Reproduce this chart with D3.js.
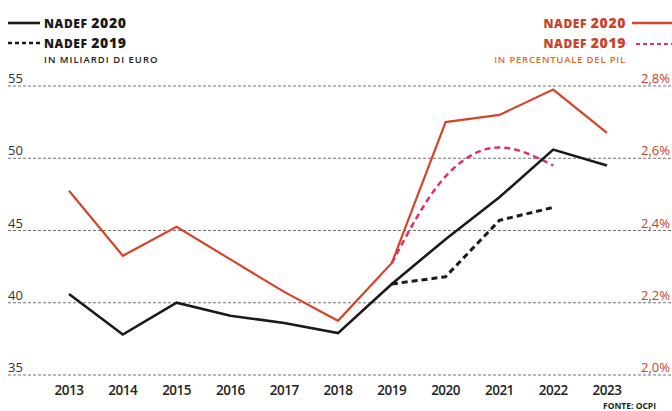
<!DOCTYPE html>
<html><head><meta charset="utf-8">
<script src="https://cdn.jsdelivr.net/npm/d3@7"></script>
<style>body{margin:0;background:#fff}svg{display:block}</style>
</head><body>
<script>
const years = [2013,2014,2015,2016,2017,2018,2019,2020,2021,2022,2023];
const nadef2020Euro = [40.6,37.8,40.0,39.1,38.6,37.9,41.3,44.4,47.3,50.6,49.5];
const nadef2019Years = [2019,2020,2021,2022];
const nadef2019Euro = [41.3,41.8,45.7,46.6];
const nadef2020Pil = [2.51,2.33,2.41,2.32,2.23,2.15,2.31,2.70,2.72,2.79,2.67];
const nadef2019Pil = [2.31,2.55,2.63,2.58];
const leftTicks = [35,40,45,50,55];
const rightTicks = [2.0,2.2,2.4,2.6,2.8];
const rightTickLabels = ["2,0%","2,2%","2,4%","2,6%","2,8%"];

const W=672,H=411;
const svg=d3.select("body").append("svg").attr("width",W).attr("height",H);
const x=d3.scalePoint().domain(years).range([69,607]);
const yL=d3.scaleLinear().domain([35,55]).range([375,86]);
const yR=d3.scaleLinear().domain([2.0,2.8]).range([375,86]);

const black="#1a1a1a", orange="#d4452b", pink="#e0306a", orangeTxt="#c8432a", lightOrange="#e06a2a";
const font="'Open Sans', 'Noto Sans', sans-serif";

// gridlines
const g=svg.append("g");
leftTicks.forEach(t=>{
  g.append("line").attr("x1",8).attr("x2",672).attr("y1",yL(t)).attr("y2",yL(t))
   .attr("stroke","#444").attr("stroke-width",1).attr("stroke-dasharray","3,2").attr("opacity",0.75);
  g.append("text").attr("x",8).attr("y",yL(t)-3).text(t)
   .attr("font-family",font).attr("font-size",13).attr("fill","#333");
});
rightTicks.forEach((t,i)=>{
  g.append("rect").attr("x",634).attr("y",yR(t)-15).attr("width",38).attr("height",13).attr("fill","#fff");
  g.append("text").attr("x",670).attr("y",yR(t)-3).attr("text-anchor","end").text(rightTickLabels[i])
   .attr("font-family",font).attr("font-size",13).attr("fill",orangeTxt);
});

// x labels
years.forEach(yr=>{
  svg.append("text").attr("x",x(yr)).attr("y",395).attr("text-anchor","middle").text(yr)
   .attr("font-family",font).attr("font-size",13.5).attr("font-weight",600).attr("letter-spacing",-0.5).attr("fill","#222");
});

// lines
const lineL=d3.line().x(d=>x(d[0])).y(d=>yL(d[1]));
const lineR=d3.line().x(d=>x(d[0])).y(d=>yR(d[1]));
const lineRc=d3.line().x(d=>x(d[0])).y(d=>yR(d[1])).curve(d3.curveMonotoneX);

svg.append("path").attr("d",lineR(years.map((y,i)=>[y,nadef2020Pil[i]])))
  .attr("fill","none").attr("stroke",orange).attr("stroke-width",2.2).attr("stroke-linejoin","miter");
svg.append("path").attr("d",lineRc(nadef2019Years.map((y,i)=>[y,nadef2019Pil[i]])))
  .attr("fill","none").attr("stroke",pink).attr("stroke-width",2.5).attr("stroke-dasharray","6,4");
svg.append("path").attr("d",lineL(nadef2019Years.map((y,i)=>[y,nadef2019Euro[i]])))
  .attr("fill","none").attr("stroke",black).attr("stroke-width",3).attr("stroke-dasharray","6,4");
svg.append("path").attr("d",lineL(years.map((y,i)=>[y,nadef2020Euro[i]])))
  .attr("fill","none").attr("stroke",black).attr("stroke-width",2.6);

// left legend
svg.append("line").attr("x1",8).attr("x2",40).attr("y1",23).attr("y2",23).attr("stroke",black).attr("stroke-width",2.6);
svg.append("line").attr("x1",8).attr("x2",40).attr("y1",43).attr("y2",43).attr("stroke",black).attr("stroke-width",2.6).attr("stroke-dasharray","4,3");
function legendText(xp,yp,yr,col,anchor){
  const t=svg.append("text").attr("x",xp).attr("y",yp).attr("text-anchor",anchor)
    .attr("font-family",font).attr("font-weight",800).attr("fill",col).attr("letter-spacing",0.6);
  t.append("tspan").attr("font-size",12).text("NADEF ");
  t.append("tspan").attr("font-size",14).text(yr);
}
legendText(44,28,"2020",black,"start");
legendText(44,47.5,"2019",black,"start");
svg.append("text").attr("x",44).attr("y",63).text("IN MILIARDI DI EURO")
  .attr("font-family",font).attr("font-size",9.5).attr("font-weight",600).attr("letter-spacing",1).attr("fill","#222");

// right legend
legendText(626,28,"2020",orangeTxt,"end");
legendText(626,47.5,"2019",orangeTxt,"end");
svg.append("line").attr("x1",632).attr("x2",672).attr("y1",23).attr("y2",23).attr("stroke",orange).attr("stroke-width",2.4);
svg.append("line").attr("x1",636).attr("x2",672).attr("y1",44).attr("y2",44).attr("stroke",pink).attr("stroke-width",2).attr("stroke-dasharray","4,3");
svg.append("text").attr("x",626).attr("y",63).attr("text-anchor","end").text("IN PERCENTUALE DEL PIL")
  .attr("font-family",font).attr("font-size",9.5).attr("font-weight",600).attr("letter-spacing",0.8).attr("fill",lightOrange);

svg.append("text").attr("x",603).attr("y",409).text("FONTE: OCPI")
  .attr("font-family",font).attr("font-size",8.5).attr("font-weight",700).attr("fill","#222");
</script>
</body></html>
